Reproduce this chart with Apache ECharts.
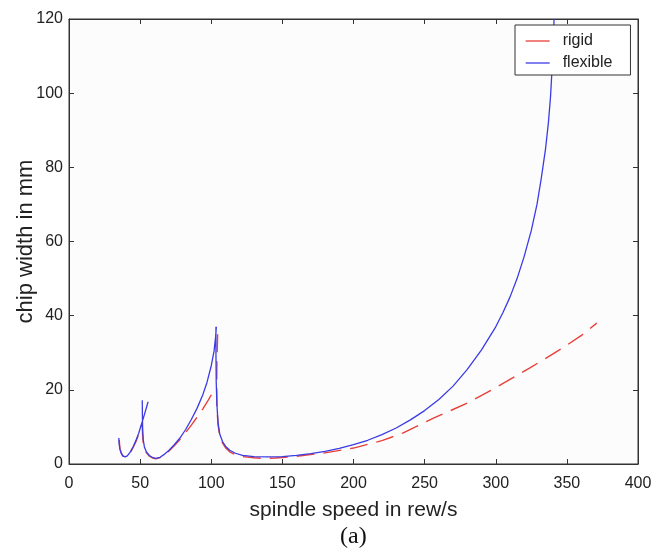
<!DOCTYPE html>
<html>
<head>
<meta charset="utf-8">
<script src="https://cdn.jsdelivr.net/npm/echarts@6/dist/echarts.min.js"></script>
<style>
html,body{margin:0;padding:0;background:#fff;}
#c{width:664px;height:557px;}
</style>
</head>
<body>
<div id="c"></div>
<script>
// Axis ticks
var xTicks = [0, 50, 100, 150, 200, 250, 300, 350, 400];
var yTicks = [0, 20, 40, 60, 80, 100, 120];

// Flexible model (blue) — stability lobes as [speed, chip width]
var flexLobe1 = [[35,7],[35.3,5.2],[35.8,4],[36.6,3],[37.8,2.2],[39.4,1.9],[41,2.2],[43,3.2],[45,4.6],[47,6.3],[49,8.3],[51,10.8],[53,13.3],[54.5,15.3],[55.6,16.8]];
var flexLobe2 = [[51.5,17.2],[51.6,13],[51.8,9],[52.2,6.5],[53,4.6],[54.5,3.2],[56.5,2.3],[59,1.7],[61,1.5],[64,1.8],[67,2.6],[70,3.6],[74,5.2],[78,7],[82,9.3],[86,12],[90,15],[94,18.6],[97,22],[100,26.5],[102,30.5],[103,34],[103.6,37]];
var flexLobe3 = [[103.3,37],[103.3,30],[103.5,22],[104,16],[104.8,11],[106,8],[108,6],[110,4.8],[113,3.7],[117,2.9],[122,2.3],[130,2],[140,1.9],[150,2],[160,2.3],[170,2.8],[180,3.4],[190,4.2],[200,5.2],[210,6.4],[220,7.9],[230,9.7],[240,11.9],[250,14.4],[260,17.4],[270,21],[280,25.5],[290,30.8],[300,37],[305,40.8],[310,45],[315,50],[320,56],[325,63],[329,70],[332,77],[335,85],[337,92],[338.5,99],[339.5,106],[340.3,113],[341,120]];

// Rigid model (red dashed)
var rigidLobe1 = [[35.3,6.5],[35.8,4.2],[36.6,3.1],[37.8,2.2],[39.4,1.9],[41,2.1],[43,3],[45,4.4],[47,6],[49,8],[51,10.5]];
var rigidLobe2 = [[51.5,10.5],[51.7,8],[52.2,5.8],[53,4.2],[54.5,3],[56.5,2.1],[59,1.6],[61,1.4],[64,1.7],[67,2.5],[70,3.4],[74,4.9],[78,6.6],[82,8.5],[86,10.5],[90,12.6],[94,14.8],[98,17.3],[102,20]];
var rigidLobe3 = [[104.5,35],[104,28],[103.8,21],[104,15],[104.8,10.5],[106,7.5],[108,5.6],[110,4.4],[113,3.3],[117,2.5],[122,2],[130,1.7],[137,1.5],[145,1.6],[160,2.1],[180,3],[200,4.3],[220,6.3],[235,8.4],[257,12.5],[280,16.4],[301,20.8],[324,25.9],[347,31.3],[360,34.6],[371,38]];

function joinLobes(lobes){
  var out = [];
  lobes.forEach(function(l, i){
    if (i > 0) out.push(['-', '-']);
    l.forEach(function(p){ out.push(p); });
  });
  return out;
}

var chart = echarts.init(document.getElementById('c'), null, {renderer:'canvas'});
var font = 'Liberation Sans, Arial, sans-serif';
var axisCommon = {
  type: 'value',
  axisLine: {show: true, onZero: false, lineStyle: {color: '#333', width: 1}},
  axisTick: {show: true, inside: true, length: 5, lineStyle: {color: '#333'}},
  splitLine: {show: false}
};
chart.setOption({
  backgroundColor: '#ffffff',
  animation: false,
  grid: {left: 69, right: 26, top: 19, bottom: 93, outerBoundsMode: 'none', containLabel: false,
         show: true, backgroundColor: '#fcfcfc', borderColor: '#333', borderWidth: 1},
  legend: {
    orient: 'vertical', left: 515, top: 25,
    padding: [8, 18, 4, 10],
    itemGap: 6,
    itemWidth: 24, itemHeight: 12,
    backgroundColor: '#ffffff',
    borderColor: '#333', borderWidth: 1,
    itemStyle: {opacity: 0},
    lineStyle: {type: 'solid', width: 1.3},
    textStyle: {fontFamily: font, fontSize: 16, color: '#222', padding: [0, 0, 0, 8]},
    data: ['rigid', 'flexible']
  },
  xAxis: [
    Object.assign({}, axisCommon, {
      position: 'bottom', min: xTicks[0], max: xTicks[xTicks.length-1], interval: xTicks[1]-xTicks[0],
      axisLabel: {show: true, margin: 12, fontFamily: font, fontSize: 16, color: '#222'},
      name: 'spindle speed in rew/s', nameLocation: 'middle', nameGap: 36,
      nameTextStyle: {fontFamily: font, fontSize: 21, color: '#222'}
    }),
    Object.assign({}, axisCommon, {
      position: 'top', min: xTicks[0], max: xTicks[xTicks.length-1], interval: xTicks[1]-xTicks[0],
      axisLabel: {show: false}
    })
  ],
  yAxis: [
    Object.assign({}, axisCommon, {
      position: 'left', min: yTicks[0], max: yTicks[yTicks.length-1], interval: yTicks[1]-yTicks[0],
      axisLabel: {show: true, margin: 6, fontFamily: font, fontSize: 16, color: '#222'},
      name: 'chip width in mm', nameLocation: 'middle', nameGap: 32, nameMoveOverlap: false,
      nameTextStyle: {fontFamily: font, fontSize: 22, color: '#222'}
    }),
    Object.assign({}, axisCommon, {
      position: 'right', min: yTicks[0], max: yTicks[yTicks.length-1], interval: yTicks[1]-yTicks[0],
      axisLabel: {show: false}
    })
  ],
  graphic: [{
    type: 'text', left: 340, top: 525,
    style: {text: '(a)', font: '24px "Liberation Serif", "Times New Roman", serif', fill: '#111'}
  }],
  series: [
    {
      name: 'rigid', type: 'line', xAxisIndex: 0, yAxisIndex: 0,
      data: joinLobes([rigidLobe1, rigidLobe2, rigidLobe3]),
      showSymbol: false, symbol: 'none', connectNulls: false, clip: true,
      lineStyle: {color: '#e8403a', width: 1.4, type: [18, 9]},
      itemStyle: {color: '#e8403a'}, z: 2
    },
    {
      name: 'flexible', type: 'line', xAxisIndex: 0, yAxisIndex: 0,
      data: joinLobes([flexLobe1, flexLobe2, flexLobe3]),
      showSymbol: false, symbol: 'none', connectNulls: false, clip: true,
      lineStyle: {color: '#3b3be6', width: 1.3, type: 'solid'},
      itemStyle: {color: '#3b3be6'}, z: 3
    }
  ]
});
</script>
</body>
</html>
